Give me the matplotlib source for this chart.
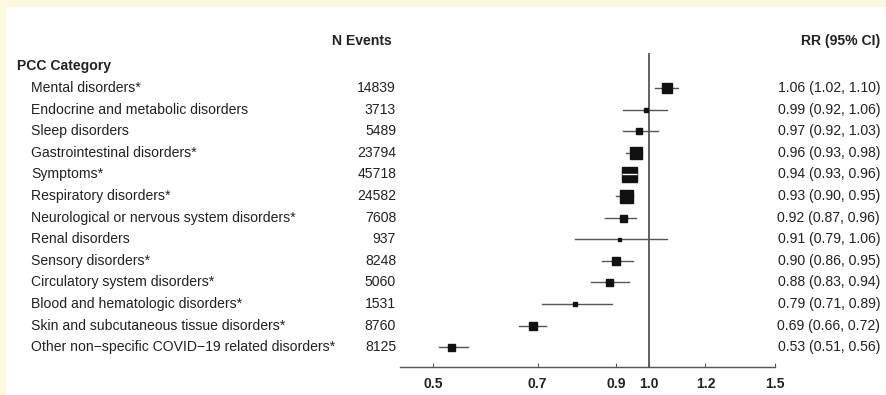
import matplotlib
matplotlib.use("Agg")
import matplotlib.pyplot as plt
import matplotlib.transforms as mtransforms
from matplotlib.patches import Rectangle

plt.rcParams['font.family'] = ['Liberation Sans', 'DejaVu Sans']

# data
categories = [
    "Mental disorders*",
    "Endocrine and metabolic disorders",
    "Sleep disorders",
    "Gastrointestinal disorders*",
    "Symptoms*",
    "Respiratory disorders*",
    "Neurological or nervous system disorders*",
    "Renal disorders",
    "Sensory disorders*",
    "Circulatory system disorders*",
    "Blood and hematologic disorders*",
    "Skin and subcutaneous tissue disorders*",
    "Other non\u2212specific COVID\u221219 related disorders*",
]
n_events = [14839, 3713, 5489, 23794, 45718, 24582, 7608, 937, 8248, 5060, 1531, 8760, 8125]
rr = [1.06, 0.99, 0.97, 0.96, 0.94, 0.93, 0.92, 0.91, 0.90, 0.88, 0.79, 0.69, 0.53]
ci_lo = [1.02, 0.92, 0.92, 0.93, 0.93, 0.90, 0.87, 0.79, 0.86, 0.83, 0.71, 0.66, 0.51]
ci_hi = [1.10, 1.06, 1.03, 0.98, 0.96, 0.95, 0.96, 1.06, 0.95, 0.94, 0.89, 0.72, 0.56]
xticks = [0.5, 0.7, 0.9, 1.0, 1.2, 1.5]

# box side in pixels (weights as drawn)
box_px = [10, 5, 6, 12, 15, 13, 7, 3, 8, 7, 3.5, 8, 7]

W, H = 886, 395
fig = plt.figure(figsize=(W / 100, H / 100), dpi=100)
fig.patch.set_facecolor("#fff8e1")
fig.patches.append(Rectangle((6 / W, 0), 1, 1 - 7 / H, transform=fig.transFigure,
                             facecolor="white", edgecolor="none", zorder=-10))

# plot area in pixels
x0, x1 = 400, 775
y_top, y_bot = 53, 367
ax = fig.add_axes([x0 / W, 1 - y_bot / H, (x1 - x0) / W, (y_bot - y_top) / H])
ax.set_facecolor("none")

row0, step = 88, 21.6
ax.set_ylim((y_bot - row0) / step, (y_top - row0) / step)
ax.set_xscale("log")
ax.set_xlim(0.45, 1.5)

ax.axvline(1.0, color="#555555", lw=1.3, zorder=1)

for i in range(len(categories)):
    ax.plot([ci_lo[i], ci_hi[i]], [i, i], color="#555555", lw=1.0, zorder=2)
    ax.plot(rr[i], i, marker="s", ms=box_px[i] * 0.72, color="#111111",
            mec="#111111", zorder=3)
    if box_px[i] >= 14:
        # CI line inside the box shows in white
        ax.plot(rr[i], i, marker="_", ms=box_px[i] * 0.72, mew=1.0, color="white", zorder=4)

for s in ["top", "right", "left"]:
    ax.spines[s].set_visible(False)
ax.spines["bottom"].set_color("#555555")
ax.spines["bottom"].set_linewidth(1.0)
ax.set_yticks([])
ax.set_xticks(xticks)
ax.set_xticks([], minor=True)
ax.set_xticklabels([f"{t:.1f}" for t in xticks], fontweight="bold", fontsize=10,
                   color="#222222")
ax.tick_params(axis="x", direction="in", length=3, color="#555555", pad=7)

# table text
tr = mtransforms.blended_transform_factory(fig.transFigure, ax.transData)
txt = dict(transform=tr, fontsize=10.1, color="#222222", va="center", clip_on=False)
for i, name in enumerate(categories):
    ax.text(31 / W, i, name, ha="left", **txt)
    ax.text(396 / W, i, str(n_events[i]), ha="right", **txt)
    ax.text(880 / W, i, f"{rr[i]:.2f} ({ci_lo[i]:.2f}, {ci_hi[i]:.2f})", ha="right", **txt)

ax.text(17 / W, (66 - row0) / step, "PCC Category", ha="left", fontweight="bold", **txt)
ax.text(362 / W, (41 - row0) / step, "N Events", ha="center", fontweight="bold", **txt)
ax.text(880 / W, (41 - row0) / step, "RR (95% CI)", ha="right", fontweight="bold", **txt)

fig.savefig("out.png", dpi=100, facecolor=fig.get_facecolor())
